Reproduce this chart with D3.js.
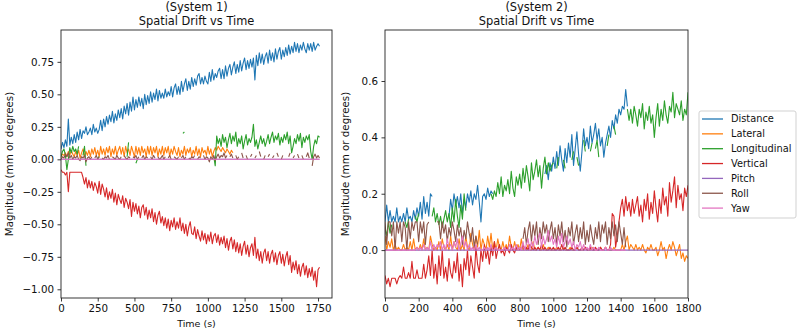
<!DOCTYPE html>
<html><head><meta charset="utf-8">
<script src="https://cdn.jsdelivr.net/npm/d3@7/dist/d3.min.js"></script>
<style>body{margin:0;background:#fff}svg{display:block}text{font-family:"DejaVu Sans",sans-serif;fill:#111}</style>
</head><body><svg id="c" width="800" height="332"></svg>
<script>
const _ = null;
const seriesNames = ["Distance","Lateral","Longitudinal","Vertical","Pitch","Roll","Yaw"];
const seriesColors = ["#1f77b4","#ff7f0e","#2ca02c","#d62728","#9467bd","#8c564b","#e377c2"];

// ---------- System 1 (sampled every 10 s, 0..1760 s) ----------
const sys1Time = d3.range(0, 1761, 10);
const sys1Distance = [
0.08,0.13,0.09,0.15,0.10,0.31,0.11,0.17,0.12,0.19,
0.13,0.21,0.15,0.23,0.16,0.22,0.20,0.25,0.19,0.21,
0.24,0.19,0.27,0.21,0.24,0.20,0.23,0.30,0.22,0.31,
0.25,0.33,0.27,0.34,0.29,0.37,0.28,0.35,0.30,0.38,
0.32,0.39,0.31,0.41,0.35,0.43,0.34,0.44,0.37,0.48,
0.38,0.46,0.40,0.48,0.41,0.47,0.39,0.50,0.42,0.49,
0.43,0.52,0.44,0.51,0.46,0.54,0.45,0.53,0.47,0.51,
0.47,0.54,0.48,0.52,0.49,0.56,0.48,0.55,0.58,0.50,
0.56,0.50,0.60,0.52,0.58,0.62,0.53,0.60,0.54,0.63,
0.56,0.62,0.57,0.64,0.66,0.58,0.63,0.58,0.64,0.60,
0.58,0.67,0.60,0.69,0.61,0.66,0.63,0.68,0.70,0.62,
0.69,0.62,0.72,0.64,0.70,0.73,0.65,0.71,0.75,0.66,
0.73,0.67,0.76,0.68,0.74,0.78,0.69,0.76,0.70,0.77,
0.71,0.78,0.61,0.80,0.72,0.82,0.74,0.81,0.73,0.79,
0.82,0.74,0.84,0.76,0.82,0.75,0.85,0.77,0.83,0.86,
0.77,0.84,0.79,0.86,0.80,0.88,0.81,0.87,0.82,0.90,
0.83,0.89,0.82,0.88,0.84,0.90,0.85,0.82,0.89,0.84,
0.89,0.83,0.90,0.84,0.87,0.89,0.87];
const sys1Lateral = [
0.02,0.04,0.03,0.05,0.02,0.06,0.03,0.07,0.04,0.02,
0.06,0.03,0.07,0.01,0.05,0.08,0.02,0.06,0.03,0.07,
0.02,0.08,0.04,0.09,0.03,0.07,0.02,0.10,0.04,0.08,
0.03,0.09,0.05,0.10,0.02,0.08,0.04,0.10,0.03,0.07,
0.10,0.04,0.09,0.02,0.10,0.05,0.08,0.03,0.10,0.06,
0.02,0.10,0.04,0.09,0.03,0.10,0.05,0.08,0.02,0.10,
0.04,0.10,0.03,0.09,0.05,0.10,0.02,0.08,0.04,0.10,
0.03,0.09,0.05,0.10,0.02,0.08,0.04,0.10,0.06,0.03,
0.09,0.02,0.07,0.04,0.10,0.03,0.08,0.05,0.09,0.02,
0.07,0.04,0.10,0.03,0.08,0.02,0.09,0.05,0.07,0.03,
0.10,0.04,0.08,0.02,0.06,0.09,0.07,0.10,0.08,0.06,
0.09,0.07,0.05,0.08,0.06,0.04,0.07,0.05];
const sys1Longitudinal = [
0.02,0.06,0.08,0.03,-0.08,0.00,0.09,0.05,0.10,0.06,
0.08,0.04,0.10,_,_,0.03,0.10,-0.05,_,_,
_,_,_,_,_,0.01,0.02,_,_,_,
_,_,_,_,_,_,_,_,_,_,
_,_,_,_,_,0.02,0.13,_,_,_,
_,-0.03,0.00,_,_,_,_,_,_,_,
_,_,_,_,_,_,_,_,_,_,
_,_,_,_,_,_,_,_,_,_,
_,_,_,0.20,0.21,_,_,_,_,_,
_,_,_,_,_,_,_,_,_,_,
_,_,_,_,0.02,-0.05,0.18,0.12,0.16,0.10,
0.19,0.13,0.17,0.09,0.15,0.20,0.12,0.18,0.14,0.21,
0.10,0.16,0.12,0.18,0.08,0.14,0.19,0.11,0.16,0.13,
0.17,0.27,0.10,0.15,0.08,0.13,0.18,0.12,0.16,0.10,
0.14,0.19,0.12,0.17,0.21,0.13,0.18,0.15,0.20,0.11,
0.17,0.13,0.19,0.15,0.21,0.12,0.18,0.05,0.10,0.16,
0.12,0.19,0.14,0.20,0.09,0.17,0.13,0.18,0.15,0.19,
0.06,0.00,0.10,0.15,0.12,0.18,0.17];
const sys1Vertical = [
-0.08,-0.10,-0.10,-0.12,-0.10,-0.25,-0.10,-0.10,-0.10,-0.10,
-0.10,-0.10,-0.10,-0.10,-0.10,-0.14,-0.19,-0.14,-0.22,-0.16,
-0.22,-0.17,-0.24,-0.18,-0.21,-0.26,-0.17,-0.27,-0.19,-0.23,
-0.29,-0.22,-0.31,-0.25,-0.30,-0.23,-0.33,-0.26,-0.35,-0.27,
-0.31,-0.34,-0.28,-0.37,-0.30,-0.33,-0.38,-0.31,-0.44,-0.33,
-0.40,-0.34,-0.42,-0.36,-0.45,-0.37,-0.35,-0.43,-0.37,-0.46,
-0.39,-0.45,-0.38,-0.48,-0.41,-0.50,-0.43,-0.40,-0.49,-0.44,
-0.51,-0.45,-0.53,-0.46,-0.55,-0.47,-0.52,-0.45,-0.54,-0.48,
-0.53,-0.45,-0.55,-0.49,-0.57,-0.50,-0.59,-0.52,-0.48,-0.57,
-0.58,-0.52,-0.61,-0.54,-0.59,-0.63,-0.55,-0.62,-0.57,-0.65,
-0.58,-0.63,-0.56,-0.65,-0.59,-0.57,-0.64,-0.58,-0.66,-0.60,
-0.65,-0.59,-0.68,-0.61,-0.70,-0.63,-0.60,-0.69,-0.62,-0.71,
-0.64,-0.72,-0.65,-0.74,-0.67,-0.63,-0.73,-0.66,-0.75,-0.68,
-0.65,-0.74,-0.60,-0.76,-0.69,-0.78,-0.71,-0.80,-0.72,-0.69,
-0.78,-0.71,-0.80,-0.73,-0.70,-0.79,-0.72,-0.81,-0.74,-0.71,
-0.80,-0.73,-0.82,-0.75,-0.71,-0.81,-0.74,-0.87,-0.79,-0.85,
-0.78,-0.88,-0.81,-0.90,-0.83,-0.80,-0.89,-0.82,-0.91,-0.84,
-0.90,-0.83,-0.93,-0.86,-0.98,-0.85,-0.83];
const sys1Pitch = [
0,0,0,0,0,0,0,0,0,0, 0,0,0,0,0,0,0,0,0,0, 0,0,0,0,0,0,0,0,0,0,
0,0,0,0,0,0,0,0,0,0, 0,0,0,0,0,0,0,0,0,0, 0,0,0,0,0,0,0,0,0,0,
0,0,0,0,0,0,0,0,0,0, 0,0,0,0,0,0,0,0,0,0, 0,0,0,0,0,0,0,0,0,0,
0,0,0,0,0,0,0,0,0,0, 0,0,0,0,0,0,0,0,0,0, 0,0,0,0,0,0,0,0,0,0,
0,0,0,0,0,0,0,0,0,0, 0,0,0,0,0,0,0,0,0,0, 0,0,0,0,0,0,0,0,0,0,
0,0,0,0,0,0,0,0,0,0, 0,0,0,0,0,0,0,0,0,0, 0,0,0,0,0,0,0];
const sys1Roll = [
0.00,0.02,0.01,0.04,0.02,0.05,0.01,0.03,0.00,0.02,
0.01,0.03,0.00,-0.01,0.02,0.01,0.03,-0.02,0.01,0.02,
0.00,0.02,_,0.01,0.03,0.00,0.02,_,0.01,0.00,
0.02,0.01,0.03,0.00,_,0.02,0.01,0.00,0.03,0.01,
0.00,0.02,_,0.03,0.01,0.00,0.02,0.01,_,0.02,
0.01,0.03,0.00,0.02,_,0.01,0.03,0.00,0.02,0.01,
_,0.02,0.00,0.03,0.01,_,0.02,0.00,0.01,0.03,
0.00,0.02,_,0.01,0.03,0.00,_,0.02,0.01,0.00,
0.02,_,0.01,0.03,0.00,0.02,_,0.01,0.00,0.02,
0.01,0.03,_,0.00,0.02,0.01,_,0.03,0.00,0.02,
0.01,-0.02,0.02,0.00,0.03,-0.01,0.02,0.04,0.01,0.03,
0.02,0.05,0.01,0.03,_,0.02,0.04,0.01,_,0.03,
0.00,0.02,_,0.05,0.01,_,0.03,0.00,_,0.02,
0.04,_,0.01,0.03,_,0.06,0.02,_,0.00,0.03,
_,0.02,0.04,_,0.01,0.03,_,0.05,0.02,_,
0.00,0.03,_,-0.04,_,0.02,0.05,_,0.01,0.03,
_,0.04,0.01,_,0.03,0.00,_,0.02,0.05,0.01,
_,-0.05,0.02,0.04,0.01,0.03,0.01];
const sys1Yaw = [
0,0,0,0,0,0,0,0,0,0, 0,0,0,0,0,0,0,0,0,0, 0,0,0,0,0,0,0,0,0,0,
0,0,0,0,0,0,0,0,0,0, 0,0,0,0,0,0,0,0,0,0, 0,0,0,0,0,0,0,0,0,0,
0,0,0,0,0,0,0,0,0,0, 0,0,0,0,0,0,0,0,0,0, 0,0,0,0,0,0,0,0,0,0,
0,0,0,0,0,0,0,0,0,0, 0,0,0,0,0,0,0,0,0,0, 0,0,0,0,0,0,0,0,0,0,
0,0,0,0,0,0,0,0,0,0, 0,0,0,0,0,0,0,0,0,0, 0,0,0,0,0,0,0,0,0,0,
0,0,0,0,0,0,0,0,0,0, 0,0,0,0,0,0,0,0,0,0, 0,0,0,0,0,0,0];

// ---------- System 2 (sampled every 10 s, 0..1800 s) ----------
const sys2Time = d3.range(0, 1801, 10);
const sys2Distance = [
0.10,0.16,0.10,0.14,0.10,0.12,0.10,0.15,0.10,0.12,
0.10,0.13,0.10,0.15,0.11,0.12,0.10,0.14,0.11,0.15,
0.12,0.17,0.11,0.19,0.13,0.17,0.12,0.20,0.19,_,
_,_,_,_,_,_,_,_,0.12,0.18,
0.14,0.20,0.16,0.19,0.15,0.20,0.13,0.18,0.15,0.20,
0.17,0.21,0.16,0.20,0.18,0.23,0.17,0.10,0.19,0.20,
0.18,0.22,0.19,0.21,0.20,_,_,_,_,_,
_,_,_,_,_,_,_,_,_,_,
_,_,_,_,_,_,_,_,_,_,
_,_,_,_,_,0.27,0.30,0.25,0.31,0.28,
0.33,0.29,0.35,0.30,0.37,0.32,0.28,0.36,0.31,0.38,
0.33,0.41,0.30,0.36,0.42,0.34,0.28,0.35,0.43,0.37,
0.40,0.36,0.44,0.38,0.41,0.45,0.39,0.43,0.37,0.40,
0.33,0.38,0.41,0.44,0.40,0.46,0.43,0.48,0.45,0.50,
0.48,0.51,0.50,0.57,0.51];
const sys2Lateral = [
0.05,0.00,0.03,0.01,0.04,0.00,0.02,0.00,0.01,0.00,
0.00,0.02,0.00,0.01,0.00,0.03,0.00,0.04,0.00,0.01,
0.00,0.02,0.00,0.04,0.00,0.01,0.00,0.05,0.02,0.00,
0.01,0.00,0.03,0.00,0.04,0.01,0.00,0.02,0.00,0.05,
0.00,0.03,0.01,0.00,0.04,0.00,0.02,0.00,0.05,0.01,
0.00,0.06,0.02,0.00,0.05,0.01,0.07,0.00,0.04,0.02,
0.00,0.05,0.01,0.06,0.00,0.03,0.00,0.04,0.01,0.00,
0.03,0.00,0.02,0.00,0.05,0.01,0.00,0.03,0.00,0.02,
0.00,0.04,0.00,0.01,0.00,0.02,0.00,0.00,0.03,0.00,
0.00,0.01,0.00,0.00,0.02,0.00,0.00,0.01,0.00,0.00,
0.00,0.00,0.01,0.00,0.00,0.00,0.01,0.00,0.00,0.00,
0.01,0.00,0.00,0.00,0.01,0.00,0.00,0.00,0.00,0.01,
0.00,0.00,0.00,0.01,0.00,0.00,0.00,0.00,0.01,0.00,
0.00,0.01,0.00,0.00,0.00,0.00,0.01,0.00,0.00,0.00,
0.00,0.02,0.00,0.03,0.05,0.00,0.02,0.01,0.00,0.02,
0.00,0.01,0.00,0.02,0.00,-0.01,0.01,0.00,0.02,0.00,
0.00,0.01,-0.02,0.00,0.03,0.00,0.01,-0.03,0.00,0.02,
0.00,0.03,0.01,-0.02,0.00,0.02,-0.03,-0.01,-0.04,-0.02,
-0.03];
const sys2Longitudinal = [
0.08,0.05,0.10,0.06,0.09,_,_,_,_,_,
_,_,0.10,0.08,0.11,_,_,_,0.12,0.10,
0.13,_,_,_,_,_,_,_,0.12,0.15,
0.10,0.13,0.09,0.12,0.08,0.11,0.14,0.10,0.13,0.08,
0.15,0.10,0.18,0.12,0.08,0.16,0.11,0.20,0.14,_,
_,_,_,_,_,_,_,_,_,_,
_,_,_,0.20,0.18,0.21,0.19,0.24,0.20,0.26,
0.19,0.23,0.21,0.25,0.20,0.28,0.22,0.19,0.26,0.23,
0.27,0.22,0.29,0.24,0.30,0.26,0.21,0.31,0.25,0.28,
0.32,0.26,0.30,0.22,0.29,0.33,0.27,0.31,0.28,0.30,
0.31,_,0.29,0.33,_,_,0.32,0.29,_,0.31,
_,0.32,0.35,_,0.33,0.30,_,_,0.39,0.35,
_,_,0.35,0.38,_,0.36,0.39,0.33,_,_,
0.31,_,0.37,0.41,_,_,0.44,0.41,_,0.43,
_,_,_,_,0.50,0.46,0.50,0.45,0.51,0.48,
0.44,0.50,0.47,0.52,0.43,0.49,0.46,0.51,0.45,0.48,
0.40,0.47,0.52,0.44,0.50,0.46,0.53,0.48,0.45,0.51,
0.49,0.56,0.47,0.52,0.50,0.48,0.53,0.46,0.50,0.48,
0.56];
const sys2Vertical = [
-0.09,-0.12,-0.10,-0.13,-0.10,-0.10,-0.10,-0.12,-0.10,-0.09,
-0.10,-0.06,-0.10,-0.10,-0.08,-0.10,-0.04,-0.10,-0.10,-0.07,
-0.10,-0.10,-0.10,-0.05,-0.10,-0.07,-0.02,-0.09,0.00,-0.10,
-0.05,-0.12,-0.02,-0.09,0.00,-0.10,-0.06,-0.11,-0.03,-0.08,
-0.10,-0.04,-0.08,-0.01,-0.11,-0.05,-0.13,-0.03,-0.07,0.00,
-0.09,-0.02,-0.06,-0.10,0.01,-0.05,-0.08,0.00,-0.04,0.02,
-0.03,0.00,-0.05,0.01,-0.02,0.03,-0.03,0.00,0.02,-0.01,
0.00,-0.02,0.01,0.00,-0.01,0.02,0.00,-0.01,0.01,0.00,
0.01,0.00,0.02,0.00,0.01,0.00,0.02,0.01,0.00,0.01,
0.00,0.01,0.00,0.02,0.00,0.01,0.00,0.00,0.01,0.00,
0.01,0.00,0.00,0.01,0.00,0.02,0.00,0.01,0.00,0.00,
0.00,0.01,0.00,0.00,0.01,0.00,0.00,0.01,0.00,0.01,
0.00,0.00,0.01,0.00,0.00,0.01,0.00,0.00,0.01,0.00,
0.00,0.01,0.00,0.00,0.02,0.13,0.12,0.01,0.05,0.10,
0.15,0.18,0.12,0.19,0.14,0.17,0.12,0.18,0.13,0.16,
0.19,0.12,0.16,0.10,0.18,0.14,0.20,0.11,0.17,0.13,
0.21,0.15,0.10,0.18,0.13,0.22,0.16,0.19,0.12,0.24,
0.17,0.21,0.26,0.15,0.23,0.18,0.20,0.14,0.22,0.19,
0.23];
const sys2Pitch = [
0,0,0,0,0,0,0,0,0,0, 0,0,0,0,0,0,0,0,0,0, 0,0,0,0,0,0,0,0,0,0,
0,0,0,0,0,0,0,0,0,0, 0,0,0,0,0,0,0,0,0,0, 0,0,0,0,0,0,0,0,0,0,
0,0,0,0,0,0,0,0,0,0, 0,0,0,0,0,0,0,0,0,0, 0,0,0,0,0,0,0,0,0,0,
0,0,0,0,0,0,0,0,0,0, 0,0,0,0,0,0,0,0,0,0, 0,0,0,0,0,0,0,0,0,0,
0,0,0,0,0,0,0,0,0,0, 0,0,0,0,0,0,0,0,0,0, 0,0,0,0,0,0,0,0,0,0,
0,0,0,0,0,0,0,0,0,0, 0,0,0,0,0,0,0,0,0,0, 0,0,0,0,0,0,0,0,0,0,
0];
const sys2Roll = [
0.10,0.02,0.10,0.10,0.05,0.10,0.00,0.10,0.06,0.10,
0.03,0.10,0.08,0.00,0.10,0.04,0.10,0.07,0.10,0.10,
0.03,0.10,0.06,0.10,0.02,0.09,0.10,_,_,_,
_,0.10,0.10,0.04,0.10,0.06,0.09,0.03,0.08,0.05,
0.10,0.07,0.03,0.09,0.05,0.08,0.02,0.07,0.04,0.10,
0.06,0.03,0.08,0.01,0.05,0.02,_,_,_,_,
_,_,_,_,_,_,_,_,_,_,
_,_,_,_,_,_,_,_,_,_,
_,_,0.04,0.08,0.02,0.07,0.10,0.03,0.09,0.05,
0.10,0.02,0.08,0.04,0.10,0.06,0.09,0.03,0.07,0.10,
0.04,0.08,0.02,0.09,0.05,0.10,0.03,0.07,0.01,0.08,
0.05,0.10,0.02,0.06,0.09,0.03,0.08,0.04,0.10,0.02,
0.07,0.03,0.09,0.05,0.02,0.08,0.04,0.10,0.03,0.09,
0.06,0.10,0.02,0.08,0.04,0.10,0.05,0.09,0.03,0.10,
0.06,0.02,0.08,0.01];
const sys2Yaw = [
0,0,0,0,0,0,0,0,0,0,
0,0,0,0,0,0,0,0,0,0.01,
0,0.01,0,0.02,0,0.01,0,0.03,0,0.02,
0,0.02,0.01,0.03,0,0.02,0,0.04,0.01,0.02,
0,0.03,0.01,0.04,0,0.02,0.05,0.01,0.03,0,
0.02,0,0.01,0,0.02,0,0.01,0,0,0.01,
0,0.01,0,0.02,0,0,0.01,0,0,0,
0,0.01,0,0,0.02,0,0.01,0,0.02,0,
0.01,0,0.03,0,0.02,0.04,0,0.03,0.01,0.05,
0.02,0.04,0.06,0.01,0.05,0.02,0.04,0.07,0.03,0.05,
0.02,0.04,0.01,0.05,0.02,0.06,0.01,0.03,0.05,0.02,
0.04,0.01,0.03,0,0.02,0.01,0.03,0,0.02,0,
0.01,0,0.02,0,0.01,0,0,0.01,0,0,
0,0.01,0,0,0.01,0,0,0,0,0,
0,0,0,0];

const sys1XTicks = [0,250,500,750,1000,1250,1500,1750];
const sys1YTicks = [0.75,0.50,0.25,0.00,-0.25,-0.50,-0.75,-1.00];
const sys2XTicks = [0,200,400,600,800,1000,1200,1400,1600,1800];
const sys2YTicks = [0.0,0.2,0.4,0.6];

const svg = d3.select("#c");

function panel(o){
  const x = d3.scaleLinear().domain(o.xDomain).range([o.x0, o.x1]);
  const y = d3.scaleLinear().domain(o.yDomain).range([o.y1, o.y0]);
  const g = svg.append("g");
  g.append("clipPath").attr("id", o.id).append("rect")
    .attr("x", o.x0).attr("y", o.y0).attr("width", o.x1-o.x0).attr("height", o.y1-o.y0);
  const plot = g.append("g").attr("clip-path", `url(#${o.id})`);
  const line = d3.line().defined(d => d[1] != null).x(d => x(d[0])).y(d => y(d[1]));
  o.series.forEach((vals, i) => {
    const pts = vals.map((v, j) => [o.time[j], v]);
    plot.append("path").attr("d", line(pts)).attr("fill","none")
      .attr("stroke", seriesColors[i]).attr("stroke-width", 1.1).attr("stroke-linejoin","round");
  });
  g.append("rect").attr("x", o.x0).attr("y", o.y0).attr("width", o.x1-o.x0).attr("height", o.y1-o.y0)
    .attr("fill","none").attr("stroke","#222").attr("stroke-width",0.9);
  const xa = g.append("g").attr("transform",`translate(0,${o.y1})`)
    .call(d3.axisBottom(x).tickValues(o.xTicks).tickFormat(d3.format("d")).tickSize(3.5).tickPadding(3.5));
  const ya = g.append("g").attr("transform",`translate(${o.x0},0)`)
    .call(d3.axisLeft(y).tickValues(o.yTicks).tickFormat(d3.format(o.yFmt)).tickSize(3.5).tickPadding(3.5));
  [xa, ya].forEach(a => {
    a.select(".domain").remove();
    a.selectAll("line").attr("stroke","#222").attr("stroke-width",0.9);
    a.selectAll("text").attr("font-size","10.3px").attr("font-family","DejaVu Sans").attr("fill","#111");
  });
  const cx = (o.x0 + o.x1) / 2;
  g.append("text").attr("x", cx).attr("y", 11).attr("text-anchor","middle").attr("font-size","11.4px").text(o.title1);
  g.append("text").attr("x", cx).attr("y", 25).attr("text-anchor","middle").attr("font-size","11.4px").text(o.title2);
  g.append("text").attr("x", cx).attr("y", 327).attr("text-anchor","middle").attr("font-size","9.5px").text("Time (s)");
  g.append("text").attr("transform",`translate(${o.ylx},${(o.y0+o.y1)/2}) rotate(-90)`)
    .attr("text-anchor","middle").attr("dy","0.35em").attr("font-size","10.3px").text("Magnitude (mm or degrees)");
}

panel({id:"clip1", x0:61, x1:332, y0:30, y1:298, xDomain:[0,1845], yDomain:[-1.067,0.995],
  time: sys1Time, series:[sys1Distance,sys1Lateral,sys1Longitudinal,sys1Vertical,sys1Pitch,sys1Roll,sys1Yaw],
  xTicks: sys1XTicks, yTicks: sys1YTicks, yFmt: ".2f", title1:"(System 1)", title2:"Spatial Drift vs Time", ylx: 9});
panel({id:"clip2", x0:385, x1:688, y0:30, y1:298, xDomain:[0,1800], yDomain:[-0.170,0.781],
  time: sys2Time, series:[sys2Distance,sys2Lateral,sys2Longitudinal,sys2Vertical,sys2Pitch,sys2Roll,sys2Yaw],
  xTicks: sys2XTicks, yTicks: sys2YTicks, yFmt: ".1f", title1:"(System 2)", title2:"Spatial Drift vs Time", ylx: 345});

// legend
const lg = svg.append("g");
lg.append("rect").attr("x",699).attr("y",111).attr("width",97).attr("height",107).attr("rx",2)
  .attr("fill","#fff").attr("stroke","#ccc").attr("stroke-width",0.9);
seriesNames.forEach((n, i) => {
  const yy = 119 + i * 14.85;
  lg.append("line").attr("x1",702).attr("x2",723).attr("y1",yy).attr("y2",yy)
    .attr("stroke", seriesColors[i]).attr("stroke-width",1.3);
  lg.append("text").attr("x",731).attr("y",yy).attr("dy","0.35em").attr("font-size","9.8px").text(n);
});
</script></body></html>
